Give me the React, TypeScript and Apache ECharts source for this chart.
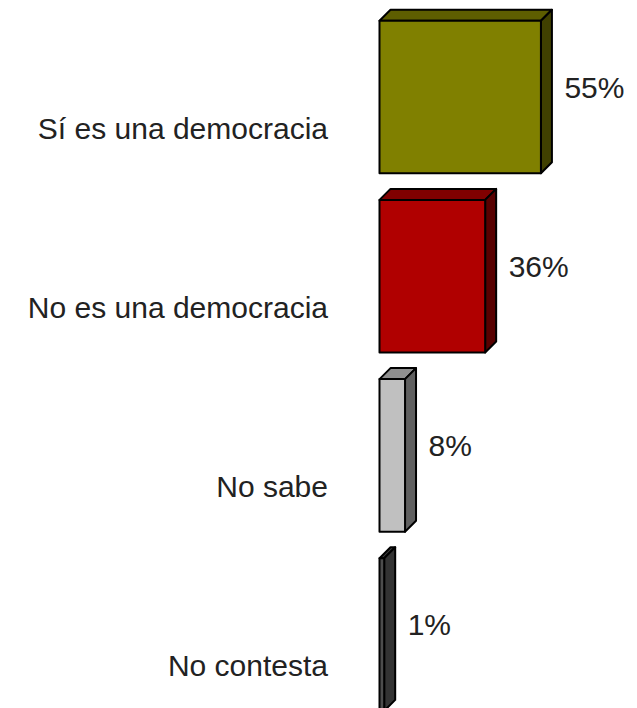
import React, { useEffect, useRef } from "react";
import * as echarts from "echarts";

const categories = ["Sí es una democracia", "No es una democracia", "No sabe", "No contesta"];
const barLengths = [55, 36, 8.7, 1.6];
const valueLabels = ["55%", "36%", "8%", "1%"];

const frontColors = ["#808000", "#B00000", "#C0C0C0", "#4D4D4D"];
const topColors = ["#5E5E00", "#800000", "#8F8F8F", "#3A3A3A"];
const sideColors = ["#404000", "#580000", "#606060", "#333333"];

const FONT = "'Liberation Sans', Arial, sans-serif";

export default function App() {
  const ref = useRef<HTMLDivElement>(null);
  useEffect(() => {
    if (!ref.current) return;
    const chart = echarts.init(ref.current, undefined, { renderer: "svg" });
    const dx = 11;
    const dy = 11;
    chart.setOption({
      animation: false,
      backgroundColor: "#ffffff",
      grid: {
        left: 379.5,
        top: 7.4,
        width: 234.8,
        height: 716.8,
        outerBoundsMode: "none",
        containLabel: false,
      },
      xAxis: { type: "value", min: 0, max: 80, show: false },
      yAxis: {
        type: "category",
        data: categories,
        inverse: true,
        axisLine: { show: false },
        axisTick: { show: false },
        splitLine: { show: false },
        axisLabel: {
          margin: 51.5,
          color: "#222222",
          fontFamily: FONT,
          fontSize: 30,
          verticalAlign: "top",
          lineHeight: 62,
        },
      },
      series: [
        {
          type: "custom",
          data: barLengths.map((v, i) => [v, i]),
          encode: { x: 0, y: 1 },
          renderItem: (params: any, api: any) => {
            const i = params.dataIndex;
            const v = api.value(0);
            const c = api.value(1);
            const p0 = api.coord([0, c]);
            const p1 = api.coord([v, c]);
            const band = api.size([0, 1])[1];
            const h = band * 0.8516;
            const x0 = p0[0];
            const x1 = p1[0];
            const yT = p0[1] - h / 2;
            const yB = p0[1] + h / 2;
            const stroke = { stroke: "#000000", lineWidth: 2, lineJoin: "round" };
            return {
              type: "group",
              children: [
                {
                  type: "polygon",
                  shape: { points: [[x0, yT], [x0 + dx, yT - dy], [x1 + dx, yT - dy], [x1, yT]] },
                  style: { fill: topColors[i], ...stroke },
                },
                {
                  type: "polygon",
                  shape: { points: [[x1, yT], [x1 + dx, yT - dy], [x1 + dx, yB - dy], [x1, yB]] },
                  style: { fill: sideColors[i], ...stroke },
                },
                {
                  type: "polygon",
                  shape: { points: [[x0, yT], [x1, yT], [x1, yB], [x0, yB]] },
                  style: { fill: frontColors[i], ...stroke },
                },
                {
                  type: "text",
                  style: {
                    x: x1 + dx + 12.5,
                    y: p0[1] - 10,
                    text: valueLabels[i],
                    fill: "#222222",
                    font: `30px ${FONT}`,
                    align: "left",
                    verticalAlign: "middle",
                  },
                },
              ],
            };
          },
        },
      ],
    });
    return () => chart.dispose();
  }, []);
  return (
    <div
      ref={ref}
      style={{ position: "fixed", left: 0, top: 0, width: 637, height: 708 }}
    />
  );
}
